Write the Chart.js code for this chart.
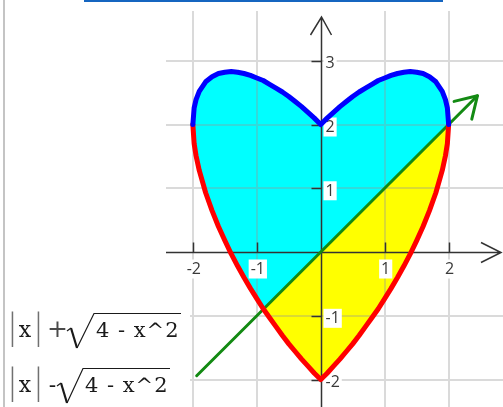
<!DOCTYPE html>
<html>
<head>
<meta charset="utf-8">
<script src="https://cdn.jsdelivr.net/npm/chart.js@4/dist/chart.umd.min.js"></script>
<style>
  html, body { margin: 0; padding: 0; background: #fff; }
  #wrap { width: 503px; height: 407px; }
</style>
</head>
<body>
<div id="wrap"><canvas id="heart" width="503" height="407"></canvas></div>
<script>
// sample x positions and curve heights
const xs = [-2, -1.98, -1.95, -1.9, -1.8, -1.7, -1.6, -1.5, -1.4, -1.3, -1.2, -1.1, -1, -0.9, -0.8, -0.7, -0.6, -0.5, -0.4, -0.3, -0.2, -0.1,
  0, 0.1, 0.2, 0.3, 0.4, 0.5, 0.6, 0.7, 0.8, 0.9, 1, 1.1, 1.2, 1.3, 1.4, 1.5, 1.6, 1.7, 1.8, 1.9, 1.95, 1.98, 2];
// blue curve |x| + sqrt(4 - x^2)
const topY = [2, 2.26, 2.39, 2.52, 2.67, 2.75, 2.8, 2.82, 2.83, 2.82, 2.8, 2.77, 2.73, 2.69, 2.63, 2.57, 2.51, 2.44, 2.36, 2.28, 2.19, 2.1,
  2, 2.1, 2.19, 2.28, 2.36, 2.44, 2.51, 2.57, 2.63, 2.69, 2.73, 2.77, 2.8, 2.82, 2.83, 2.82, 2.8, 2.75, 2.67, 2.52, 2.39, 2.26, 2];
// red curve |x| - sqrt(4 - x^2)
const botY = [2, 1.7, 1.51, 1.28, 0.93, 0.65, 0.4, 0.18, -0.03, -0.22, -0.4, -0.57, -0.73, -0.89, -1.03, -1.17, -1.31, -1.44, -1.56, -1.68, -1.79, -1.9,
  -2, -1.9, -1.79, -1.68, -1.56, -1.44, -1.31, -1.17, -1.03, -0.89, -0.73, -0.57, -0.4, -0.22, -0.03, 0.18, 0.4, 0.65, 0.93, 1.28, 1.51, 1.7, 2];
// green line y = x
const lineX = [-1.94, 2.45];
const lineY = [-1.94, 2.45];
const cross = [-0.89, -0.89]; // green line meets red curve

const xTicks = [-2, -1, 1, 2];
const yTicks = [3, 2, 1, -1, -2];
const xGrid = [-2, -1, 1, 2];
const yGrid = [-2, -1, 1, 2, 3];

const formulaTop = ['x', '+', '4 - x^2'];
const formulaBottom = ['x', '-', '4 - x^2'];

const pts = ys => xs.map((x, i) => ({ x, y: ys[i] }));
const crossPt = { x: cross[0], y: cross[1] };
const cyanShape = [...pts(topY), crossPt, ...pts(botY).filter(p => p.x < cross[0]).reverse()];
const yellowShape = [crossPt, ...pts(botY).filter(p => p.x > cross[0]).reverse()];
const greenLine = lineX.map((x, i) => ({ x, y: lineY[i] }));

// tall "|" delimiter: stretch the glyph vertically
function tallBar(ctx, cx, top, bottom) {
  const m = ctx.measureText('|');
  const gh = m.actualBoundingBoxAscent + m.actualBoundingBoxDescent;
  ctx.save();
  ctx.translate(cx, top);
  ctx.scale(1, (bottom - top) / gh);
  ctx.textAlign = 'center';
  ctx.textBaseline = 'alphabetic';
  ctx.fillText('|', 0, m.actualBoundingBoxAscent);
  ctx.restore();
}

function spacedText(ctx, text, left, right, base) {
  ctx.letterSpacing = '0px';
  const w = ctx.measureText(text).width;
  ctx.letterSpacing = Math.max(0, (right - left - w) / (text.length - 0.5)) + 'px';
  ctx.textAlign = 'left';
  ctx.fillText(text, left, base);
  ctx.letterSpacing = '0px';
}

function drawFormula(ctx, parts, base, opX, rootL, rootR) {
  const top = base - 24, bottom = base + 11;
  ctx.font = '19px "DejaVu Serif"';
  ctx.fillStyle = '#707070';
  tallBar(ctx, 12.5, top, bottom);
  tallBar(ctx, 38.5, top, bottom);
  ctx.fillStyle = '#1a1a1a';
  ctx.textAlign = 'center';
  ctx.textBaseline = 'alphabetic';
  ctx.font = '22px "DejaVu Serif"';
  ctx.fillText(parts[0], 25, base);
  if (parts[1] === '+') {
    ctx.font = '25px "DejaVu Serif"';
    ctx.fillStyle = '#4a4a4a';
  }
  ctx.fillText(parts[1], opX, base);
  ctx.fillStyle = '#1a1a1a';
  // radical sign and its bar
  ctx.strokeStyle = '#1a1a1a';
  ctx.lineJoin = 'miter';
  ctx.lineWidth = 1.2;
  ctx.beginPath();
  ctx.moveTo(rootL - 1, base - 6);
  ctx.lineTo(rootL + 3, base - 9);
  ctx.stroke();
  ctx.lineWidth = 2.2;
  ctx.beginPath();
  ctx.moveTo(rootL + 3, base - 9);
  ctx.lineTo(rootL + 9, bottom);
  ctx.stroke();
  ctx.lineWidth = 1.2;
  ctx.beginPath();
  ctx.moveTo(rootL + 9, bottom);
  ctx.lineTo(rootR - 1, top + 0.5);
  ctx.lineTo(rootR + 86, top + 0.5);
  ctx.stroke();
  ctx.font = '21px "DejaVu Serif"';
  spacedText(ctx, parts[2], rootR + 1, rootR + 84, base);
}

const heartDecor = {
  id: 'heartDecor',
  afterDatasetDraw(chart, args) {
    if (chart.data.datasets[args.index].label !== 'cyan') return;
    const { ctx, chartArea: a, scales: { x, y } } = chart;
    const x0 = Math.round(x.getPixelForValue(0)) + 0.5;
    const y0 = Math.round(y.getPixelForValue(0)) + 0.5;
    ctx.save();
    // grid on top of the fills
    ctx.strokeStyle = 'rgba(150,150,150,0.35)';
    ctx.lineWidth = 2;
    ctx.beginPath();
    xGrid.forEach(v => { const p = Math.round(x.getPixelForValue(v)); ctx.moveTo(p, a.top); ctx.lineTo(p, a.bottom); });
    yGrid.forEach(v => { const p = Math.round(y.getPixelForValue(v)); ctx.moveTo(a.left, p); ctx.lineTo(a.right, p); });
    ctx.stroke();
    // axes with arrows
    ctx.strokeStyle = '#333';
    ctx.lineWidth = 1.5;
    ctx.beginPath();
    ctx.moveTo(a.left, y0); ctx.lineTo(a.right - 2, y0);
    ctx.moveTo(a.right - 22, y0 - 10); ctx.lineTo(a.right - 2, y0); ctx.lineTo(a.right - 22, y0 + 10);
    ctx.moveTo(x0, a.bottom); ctx.lineTo(x0, a.top + 6);
    ctx.moveTo(x0 - 11, a.top + 24); ctx.lineTo(x0, a.top + 6); ctx.lineTo(x0 + 10, a.top + 24);
    xTicks.forEach(v => { const p = Math.round(x.getPixelForValue(v)) + 0.5; ctx.moveTo(p, y0 - 10); ctx.lineTo(p, y0); });
    yTicks.forEach(v => { const p = Math.round(y.getPixelForValue(v)) + 0.5; ctx.moveTo(x0 - 10, p); ctx.lineTo(x0, p); });
    ctx.stroke();
    // tick labels on white boxes
    ctx.font = '16px "Open Sans"';
    ctx.textBaseline = 'middle';
    const label = (t, left, cy) => {
      const w = ctx.measureText(t).width;
      ctx.fillStyle = '#fff';
      ctx.fillRect(left - 2, cy - 9, w + 4, 19);
      ctx.fillStyle = '#3a3a3a';
      ctx.textAlign = 'left';
      ctx.fillText(t, left, cy + 1);
    };
    xTicks.forEach(v => {
      const t = String(v);
      label(t, x.getPixelForValue(v) - ctx.measureText(t).width / 2 + 1, y0 + 16);
    });
    yTicks.forEach(v => label(String(v), x0 + 4, y.getPixelForValue(v) + 2));
    ctx.restore();
  },
  afterDatasetsDraw(chart) {
    const idx = chart.data.datasets.findIndex(d => d.label === 'green');
    const [p0, p1] = chart.getDatasetMeta(idx).data;
    const ang = Math.atan2(p1.y - p0.y, p1.x - p0.x);
    const { ctx } = chart;
    ctx.save();
    ctx.strokeStyle = '#138a13';
    ctx.lineWidth = 3;
    ctx.lineCap = 'round';
    ctx.beginPath();
    [0.55, -0.55].forEach(d => {
      ctx.moveTo(p1.x, p1.y);
      ctx.lineTo(p1.x + 24 * Math.cos(ang + Math.PI + d), p1.y + 24 * Math.sin(ang + Math.PI + d));
    });
    ctx.stroke();
    ctx.restore();
  },
  afterDraw(chart) {
    const { ctx } = chart;
    ctx.save();
    ctx.fillStyle = '#c4c4c4';
    ctx.fillRect(3, 0, 2, 407);
    ctx.fillStyle = '#1565c0';
    ctx.fillRect(84, 0, 359, 2);
    ctx.fillStyle = '#fff';
    ctx.fillRect(6, 300, 184, 107);
    drawFormula(ctx, formulaTop, 337, 57.5, 68, 95);
    drawFormula(ctx, formulaBottom, 392, 52.5, 58, 84);
    ctx.restore();
  }
};

new Chart(document.getElementById('heart'), {
  type: 'line',
  data: {
    datasets: [
      { label: 'yellow', data: yellowShape, fill: 'shape', backgroundColor: '#ffff00', borderColor: '#ffff00', borderWidth: 1, order: 5 },
      { label: 'cyan', data: cyanShape, fill: 'shape', backgroundColor: '#00ffff', borderColor: '#00ffff', borderWidth: 1, order: 4 },
      { label: 'green', data: greenLine, fill: false, borderColor: '#138a13', borderWidth: 3, order: 3 },
      { label: 'red', data: pts(botY), fill: false, borderColor: '#ff0000', borderWidth: 5, borderJoinStyle: 'round', order: 2 },
      { label: 'blue', data: pts(topY), fill: false, borderColor: '#0000ff', borderWidth: 5, borderJoinStyle: 'round', order: 1 }
    ]
  },
  options: {
    responsive: false,
    animation: false,
    events: [],
    layout: { padding: { left: 166, top: 11, right: 0, bottom: 0 } },
    plugins: { legend: { display: false }, tooltip: { enabled: false } },
    elements: { point: { radius: 0 }, line: { tension: 0, borderCapStyle: 'round' } },
    scales: {
      x: { type: 'linear', min: -2.42, max: 2.85, display: false },
      y: { type: 'linear', min: -2.43, max: 3.78, display: false }
    }
  },
  plugins: [heartDecor]
});
</script>
</body>
</html>
